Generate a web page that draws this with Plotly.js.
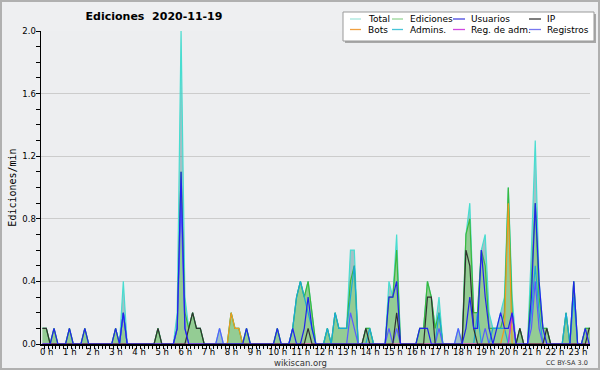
<!DOCTYPE html>
<html><head><meta charset="utf-8">
<script src="https://cdn.plot.ly/plotly-3.0.1.min.js"></script>
<style>html,body{margin:0;padding:0;background:#eeeff1}#chart{width:600px;height:370px}</style>
</head><body><div id="chart"></div>
<script>
// 10-minute slots, values in edits per minute (one row per hour)
const hourLabels = ["0 h","1 h","2 h","3 h","4 h","5 h","6 h","7 h","8 h","9 h","10 h","11 h",
  "12 h","13 h","14 h","15 h","16 h","17 h","18 h","19 h","20 h","21 h","22 h","23 h"];

const total = [
 .1,.1,0,.1,0,0,  0,.1,0,0,0,.1,  0,0,0,0,0,0,  0,.1,0,.4,0,0,
 0,0,0,0,0,0,  .1,0,0,0,0,.2,  2.0,.3,.1,.2,.1,.1,  0,0,0,0,.1,0,
 0,.2,.1,.1,0,.1,  0,0,0,0,0,0,  0,.1,0,0,0,.1,  .3,.4,.3,.4,.2,0,
 0,0,.1,0,.2,.1,  .1,.1,.6,.6,0,0,  .1,.1,0,0,0,0,  .4,.3,.7,0,0,0,
 0,0,.1,.1,.4,.3,  .1,.3,0,0,0,0,  .1,0,.7,.9,.2,.2,  .6,.7,.2,.1,.1,.2,
 .3,1.0,.3,0,.1,0,  0,.6,1.3,.4,.1,.1,  0,0,0,0,.2,0,  .4,0,0,.1,.1,.1];

const ediciones = [
 .1,.1,0,.1,0,0,  0,.1,0,0,0,.1,  0,0,0,0,0,0,  0,.1,0,.2,0,0,
 0,0,0,0,0,0,  .1,0,0,0,0,.1,  1.1,.2,.1,.2,.1,.1,  0,0,0,0,0,0,
 0,.2,.1,.1,0,.1,  0,0,0,0,0,0,  0,.1,0,0,0,.1,  .3,.4,.3,.4,.2,0,
 0,0,.1,0,.2,.1,  .1,.1,.4,.5,0,0,  .1,.1,0,0,0,0,  .3,.3,.6,0,0,0,
 0,0,.1,.1,.4,.3,  .1,.2,0,0,0,0,  0,0,.7,.8,.2,.2,  .6,.5,.1,.1,.1,.1,
 .2,1.0,.2,0,.1,0,  0,.4,.9,.3,.1,.1,  0,0,0,0,.2,0,  .4,0,0,.1,.1,.1];

const usuarios = [
 0,0,0,.1,0,0,  0,.1,0,0,0,.1,  0,0,0,0,0,0,  0,.1,0,.2,0,0,
 0,0,0,0,0,0,  0,0,0,0,0,.1,  1.1,.1,0,0,0,0,  0,0,0,0,0,0,
 0,0,0,0,0,.1,  0,0,0,0,0,0,  0,.1,0,0,0,.1,  0,0,.1,.3,.1,0,
 0,0,0,0,0,0,  0,0,0,0,0,0,  0,0,0,0,0,0,  .3,.3,.4,0,0,0,
 0,0,.1,.1,.1,0,  0,0,0,0,0,0,  0,0,.1,.3,.1,.1,  .6,.3,.1,0,.1,.2,
 .1,.1,.2,0,0,0,  0,.3,.9,.4,.1,0,  0,0,0,0,0,0,  .4,0,0,.1,0,0];

const ip = [
 .1,.1,0,0,0,0,  0,0,0,0,0,0,  0,0,0,0,0,0,  0,0,0,0,0,0,
 0,0,0,0,0,0,  .1,0,0,0,0,0,  0,0,.1,.2,.1,.1,  0,0,0,0,0,0,
 0,0,0,0,0,0,  0,0,0,0,0,0,  0,0,0,0,0,0,  0,0,0,.1,0,0,
 0,0,0,0,0,0,  0,0,0,0,0,0,  .1,0,0,0,0,0,  0,0,.2,0,0,0,
 0,0,0,0,.3,.3,  0,0,0,0,0,0,  0,0,.6,.5,.1,0,  0,0,0,0,0,0,
 0,0,0,0,.1,0,  0,0,0,0,0,.1,  0,0,0,0,0,0,  0,0,0,0,.1,.1];

const bots = [
 0,0,0,0,0,0,  0,0,0,0,0,0,  0,0,0,0,0,0,  0,0,0,0,0,0,
 0,0,0,0,0,0,  0,0,0,0,0,0,  0,0,0,0,0,0,  0,0,0,0,0,0,
 0,.2,.1,.1,0,0,  0,0,0,0,0,0,  0,0,0,0,0,0,  0,0,0,0,0,0,
 0,0,0,0,0,0,  0,0,0,0,0,0,  0,0,0,0,0,0,  0,0,0,0,0,0,
 0,0,0,0,0,0,  0,0,0,0,0,0,  0,0,0,0,0,0,  0,0,0,0,0,0,
 .1,.9,0,0,0,0,  0,0,0,0,0,0,  0,0,0,0,0,0,  0,0,0,0,0,0];

const admins = [
 0,0,0,0,0,0,  0,0,0,0,0,0,  0,0,0,0,0,0,  0,0,0,.2,0,0,
 0,0,0,0,0,0,  0,0,0,0,0,0,  0,0,0,0,0,0,  0,0,0,0,0,0,
 0,0,0,0,0,0,  0,0,0,0,0,0,  0,0,0,0,0,.1,  .3,.4,.3,.2,.1,0,
 0,0,.1,0,.2,.1,  .1,.1,.3,.5,0,0,  0,.1,0,0,0,0,  0,0,0,0,0,0,
 0,0,0,0,0,0,  0,.2,0,0,0,0,  0,0,0,0,0,.2,  0,0,0,.1,.1,.1,
 .1,0,0,0,0,0,  0,.2,.5,.2,0,0,  0,0,0,0,.2,0,  .3,0,0,0,0,0];

const regAdm = [
 0,0,0,0,0,0,  0,0,0,0,0,0,  0,0,0,0,0,0,  0,0,0,0,0,0,
 0,0,0,0,0,0,  0,0,0,0,0,0,  0,0,0,0,0,0,  0,0,0,0,0,0,
 0,0,0,0,0,0,  0,0,0,0,0,0,  0,0,0,0,0,0,  0,0,0,0,0,0,
 0,0,0,0,0,0,  0,0,0,0,0,0,  0,0,0,0,0,0,  0,0,0,0,0,0,
 0,0,0,0,0,0,  0,0,0,0,0,0,  0,0,0,0,0,0,  0,0,0,0,0,0,
 0,0,.2,0,0,0,  0,0,0,0,0,0,  0,0,0,0,0,0,  0,0,0,0,0,0];

const registros = [
 0,0,0,0,0,0,  0,0,0,0,0,0,  0,0,0,0,0,0,  0,0,0,.2,0,0,
 0,0,0,0,0,0,  0,0,0,0,0,.1,  .9,.1,0,0,0,0,  0,0,0,0,.1,0,
 0,0,0,0,0,0,  0,0,0,0,0,0,  0,0,0,0,0,0,  0,0,0,0,0,0,
 0,0,0,0,0,0,  0,0,.2,.1,0,0,  0,0,0,0,0,0,  .1,0,.1,0,0,0,
 0,0,0,0,0,0,  0,.1,0,0,0,0,  .1,0,0,0,0,0,  0,.1,0,0,0,0,
 0,0,.2,0,0,0,  0,.1,.4,.1,0,0,  0,0,0,0,0,0,  0,0,0,0,0,0];

const seriesNames = ["Total","Ediciones","Usuarios","IP","Bots","Admins.","Reg. de adm.","Registros"];
const seriesColors = ["#48ddd0","#3cb83c","#2222ee","#303030","#f09a20","#1aa8d8","#cc33dd","#5a5aff"];
const legendColors = ["#a6e6de","#96d696","#4646e0","#383838","#f0a040","#48c4d8","#d048e0","#7878f0"];

// slot start minutes (10-minute bins, plotted mid-bin)
const slotMinutes = total.map((_, j) => j * 10 + 5);
const hourTicks = hourLabels.map((_, h) => h * 60 + 16);

const dataById = {
  "Total": total, "Ediciones": ediciones, "Usuarios": usuarios, "IP": ip,
  "Bots": bots, "Admins.": admins, "Reg. de adm.": regAdm, "Registros": registros
};
const drawOrder = ["Total","Ediciones","Admins.","Registros","Bots","Reg. de adm.","IP","Usuarios"];
const fills = {"Total": "rgba(20,110,120,0.35)", "Ediciones": "rgba(136,215,98,0.5)"};

const traces = drawOrder.map(name => {
  const i = seriesNames.indexOf(name);
  const t = {
    type: "scatter", mode: "lines", name: name, x: slotMinutes, y: dataById[name],
    line: {color: seriesColors[i], width: 1.2}, hoverinfo: "skip", showlegend: false
  };
  if (fills[name]) { t.fill = "tozeroy"; t.fillcolor = fills[name]; }
  return t;
});

// plot-area geometry (pixels) for paper-referenced decorations
const PL = 41, PT = 31, PW = 549, PH = 313;
const px = X => (X - PL) / PW;
const py = Y => (PT + PH - Y) / PH;

const shapes = [
  {type:"rect", xref:"paper", yref:"paper", x0:px(1), x1:px(599), y0:py(369), y1:py(1),
   line:{color:"#b0b0b0", width:2}, fillcolor:"rgba(0,0,0,0)", layer:"above"},
  {type:"rect", xref:"paper", yref:"paper", x0:px(345), x1:px(596), y0:py(43), y1:py(14),
   line:{width:0}, fillcolor:"#a8a8a8", layer:"above"},
  {type:"rect", xref:"paper", yref:"paper", x0:px(343), x1:px(594), y0:py(41), y1:py(12),
   line:{color:"#999999", width:1}, fillcolor:"#ffffff", layer:"above"}
];
const annotations = [];
const colLine = [[350,361],[392,403],[453,465],[529,541]];
const colText = [366,408,469,545];
const rowY = [19, 29.5];
seriesNames.forEach((name, i) => {
  const r = Math.floor(i / 4), c = i % 4;
  shapes.push({type:"line", xref:"paper", yref:"paper", x0:px(colLine[c][0]), x1:px(colLine[c][1]),
    y0:py(rowY[r]), y1:py(rowY[r]), line:{color:legendColors[i], width:1.3}, layer:"above"});
  annotations.push({xref:"paper", yref:"paper", x:px(colText[c]), y:py(rowY[r]), text:name,
    showarrow:false, xanchor:"left", yanchor:"middle",
    font:{family:"DejaVu Sans", size:9, color:"#000"}});
});
annotations.push({xref:"paper", yref:"paper", x:px(300), y:py(362.5), text:"wikiscan.org",
  showarrow:false, xanchor:"center", yanchor:"middle", font:{family:"DejaVu Sans", size:8.5, color:"#333"}});
annotations.push({xref:"paper", yref:"paper", x:px(590), y:py(363), text:"CC BY-SA 3.0",
  showarrow:false, xanchor:"right", yanchor:"middle", font:{family:"DejaVu Sans", size:6.5, color:"#333"}});

const layout = {
  width: 600, height: 370,
  margin: {l: PL, r: 600 - PL - PW, t: PT, b: 370 - PT - PH, pad: 0},
  paper_bgcolor: "#eeeff1", plot_bgcolor: "#edeef0",
  title: {text: "<b>Ediciones\u00a0 2020-11-19</b>", xref: "container", yref: "container",
    x: 154/600, xanchor: "center", y: 1 - 16.5/370, yanchor: "middle",
    font: {family: "DejaVu Sans", size: 11, color: "#000"}},
  xaxis: {
    range: [1.2, 1427.2], tickmode: "array", tickvals: hourTicks, ticktext: hourLabels,
    ticks: "", showgrid: false, zeroline: false, showline: true, linecolor: "#000", linewidth: 1.5,
    ticklabelstandoff: -1,
    tickfont: {family: "DejaVu Sans", size: 8.5, color: "#000"},
    minor: {tickmode: "linear", tick0: 0, dtick: 10, ticks: "outside", ticklen: 3.5, tickcolor: "#000", tickwidth: 1, showgrid: false},
    fixedrange: true
  },
  yaxis: {
    range: [0, 2.0], tick0: 0, dtick: 0.4, tickformat: ".1f", ticks: "outside", ticklen: 4,
    tickcolor: "#000", showgrid: true, gridcolor: "#cccccc", gridwidth: 1, zeroline: false,
    showline: true, linecolor: "#000", linewidth: 1.5, ticklabelstandoff: -2,
    tickfont: {family: "DejaVu Sans", size: 8.5, color: "#000"},
    minor: {dtick: 0.1, ticks: "outside", ticklen: 4, tickcolor: "#000", showgrid: false},
    title: {text: "Ediciones/min", standoff: 4, font: {family: "DejaVu Sans Mono", size: 10, color: "#000"}},
    fixedrange: true
  },
  shapes: shapes, annotations: annotations, showlegend: false
};

Plotly.newPlot("chart", traces, layout, {displayModeBar: false, staticPlot: true});
</script></body></html>
